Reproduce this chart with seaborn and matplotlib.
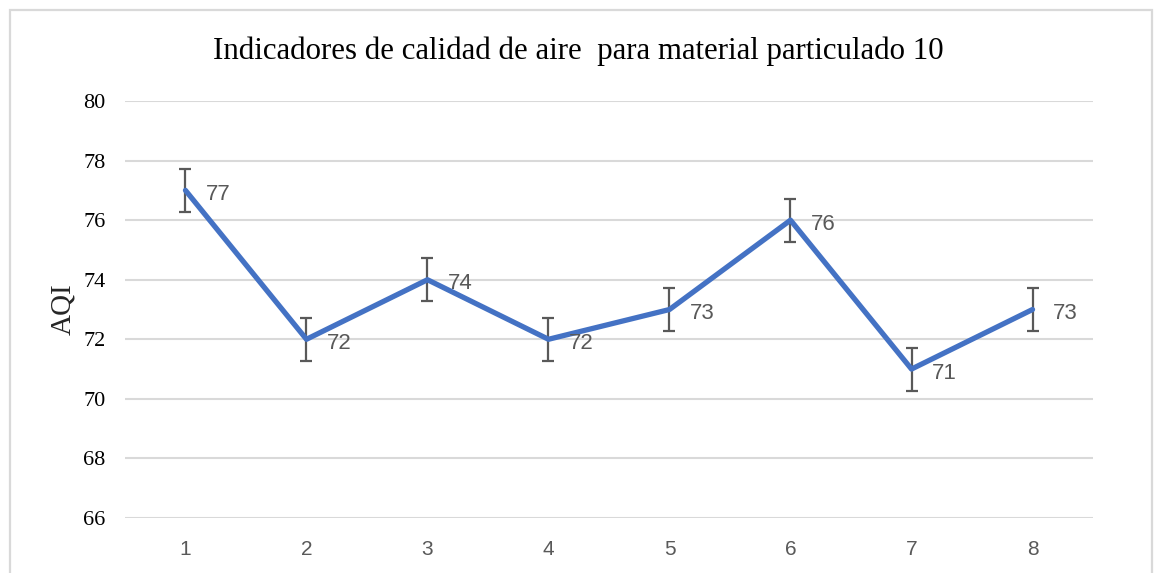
import matplotlib
matplotlib.use("Agg")
import matplotlib.pyplot as plt
from matplotlib.patches import Rectangle
import pandas as pd
import seaborn as sns

# datos del grafico
puntos = [1, 2, 3, 4, 5, 6, 7, 8]
aqi = [77, 72, 74, 72, 73, 76, 71, 73]
error = [0.72, 0.72, 0.72, 0.72, 0.72, 0.72, 0.72, 0.72]
yticks = [66, 68, 70, 72, 74, 76, 78, 80]

df = pd.DataFrame({"punto": puntos, "aqi": aqi, "err": error})

sns.set_theme(style="whitegrid")
plt.rcParams["font.family"] = ["Liberation Serif", "DejaVu Serif"]

fig = plt.figure(figsize=(11.57, 5.73), dpi=100)
ax = fig.add_axes([0.108, 0.096, 0.8367, 0.7277])

azul = "#4472C4"
gris = "#595959"

ax.errorbar(df["punto"], df["aqi"], yerr=df["err"], fmt="none",
            ecolor=gris, elinewidth=1.6, capsize=4.5, capthick=1.6, zorder=2)
sns.lineplot(data=df, x="punto", y="aqi", color=azul, linewidth=3.8, ax=ax, zorder=3)

# etiquetas de datos
for x, y in zip(df["punto"], df["aqi"]):
    ax.annotate(str(y), (x, y), xytext=(15, -3), textcoords="offset points",
                ha="left", va="center", fontsize=16, color=gris,
                family=["Liberation Sans", "DejaVu Sans"])

ax.set_xlim(0.5, 8.5)
ax.set_ylim(66, 80)
ax.set_yticks(yticks)
ax.set_xticks(puntos)
ax.set_xticklabels([str(p) for p in puntos], fontsize=15, color=gris,
                   family=["Liberation Sans", "DejaVu Sans"])
ax.set_yticklabels([str(t) for t in yticks], fontsize=16, color="black")
ax.tick_params(axis="y", length=0, pad=14)
ax.tick_params(axis="x", length=0, pad=16)

ax.grid(axis="y", color="#D9D9D9", linewidth=1.5)
ax.grid(axis="x", visible=False)
for s in ax.spines.values():
    s.set_visible(False)

ax.set_xlabel("")
ax.set_ylabel("AQI", fontsize=21)
ax.yaxis.set_label_coords(-0.05, 0.5)

fig.text(0.5, 0.91, "Indicadores de calidad de aire  para material particulado 10",
         ha="center", va="center", fontsize=22.2, color="black")

# borde del area del grafico
fig.patches.append(Rectangle((10 / 1157, -0.05), 1142 / 1157, 1.05 - 10 / 573,
                             transform=fig.transFigure, fill=False,
                             edgecolor="#D9D9D9", linewidth=1.6))

fig.savefig("out.png", dpi=100, facecolor="white")
